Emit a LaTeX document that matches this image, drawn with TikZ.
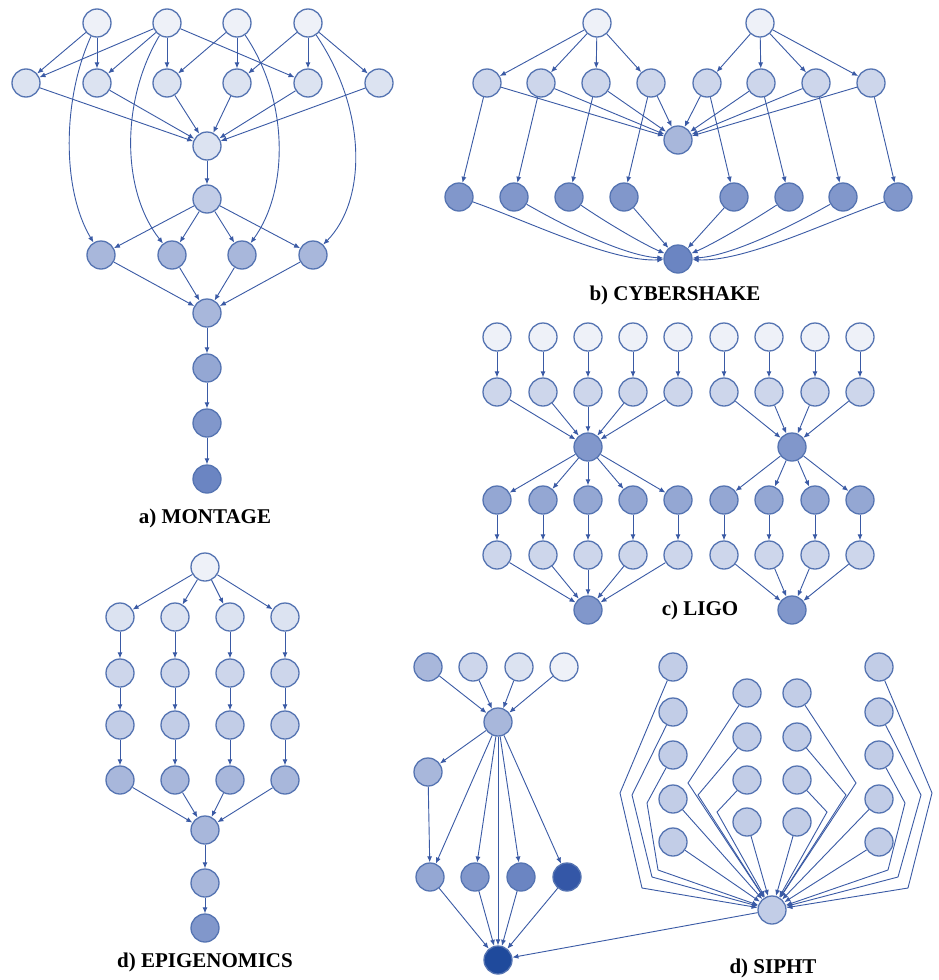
\documentclass[tikz,border=0pt]{standalone}
\usepackage{fontspec}
\setmainfont{Liberation Serif}
\usetikzlibrary{arrows.meta}
% palette: node border, edge colour and node fills from light to dark
\definecolor{nb}{HTML}{5574B2}
\definecolor{ln}{HTML}{3A5AA5}
\definecolor{k0}{HTML}{EEF1F8}
\definecolor{k1}{HTML}{DCE3F1}
\definecolor{k2}{HTML}{CDD6EB}
\definecolor{k3}{HTML}{C2CDE7}
\definecolor{k4}{HTML}{A8B7DB}
\definecolor{k5}{HTML}{94A7D3}
\definecolor{k6}{HTML}{8197CB}
\definecolor{k7}{HTML}{6B85C2}
\definecolor{k8}{HTML}{3457A7}
\definecolor{k9}{HTML}{1F4A9C}
\begin{document}
\begin{tikzpicture}[x=1pt,y=-1pt,
  job/.style={circle,draw=nb,line width=1.3pt,minimum size=28pt,inner sep=0pt,fill=#1},
  job/.default=k1,
  link/.style={draw=ln,line width=0.9pt,-{Latex[length=6pt,width=5pt]}},
  caption/.style={font=\bfseries\fontsize{21}{24}\selectfont,inner sep=0pt}]
\useasboundingbox[fill=white] (0,0) rectangle (938,980);

% ---------------- a) MONTAGE ----------------
\foreach \x [count=\i] in {97,167,237,308} \node[job=k0] (mt\i) at (\x,23) {};
\foreach \x [count=\i] in {26,97,167,237,308,379} \node[job=k1] (mp\i) at (\x,83) {};
\node[job=k1] (mc) at (207,146) {};
\node[job=k3] (mb) at (207,199) {};
\foreach \x [count=\i] in {101,172,242,313} \node[job=k4] (md\i) at (\x,255) {};
\node[job=k4] (me) at (207,313) {};
\node[job=k5] (mf) at (207,368) {};
\node[job=k6] (mg) at (207,423) {};
\node[job=k7] (mh) at (207,479) {};
\foreach \a/\b in {mt1/mp1,mt1/mp2,mt2/mp1,mt2/mp2,mt2/mp3,mt2/mp5,
                   mt3/mp3,mt3/mp4,mt4/mp4,mt4/mp5,mt4/mp6}
  \draw[link] (\a) -- (\b);
\foreach \i in {1,...,6} \draw[link] (mp\i) -- (mc);
\draw[link] (mc) -- (mb);
\foreach \i in {1,...,4} {\draw[link] (mb) -- (md\i); \draw[link] (md\i) -- (me);}
\draw[link] (me) -- (mf);
\draw[link] (mf) -- (mg);
\draw[link] (mg) -- (mh);
\draw[link] (mt1) .. controls (62,100) and (62,190) .. (md1);
\draw[link] (mt2) .. controls (121,100) and (121,190) .. (md2);
\draw[link] (mt3) .. controls (289,100) and (289,190) .. (md3);
\draw[link] (mt4) .. controls (367,110) and (367,200) .. (md4);
\node[caption] (capa) at (205,518) {a) MONTAGE};

% ---------------- b) CYBERSHAKE ----------------
\node[job=k0] (ct1) at (597,23) {};
\node[job=k0] (ct2) at (760,23) {};
\foreach \x [count=\i] in {487,541,596,651,707,761,816,871} \node[job=k2] (cp\i) at (\x,83) {};
\node[job=k4] (cc) at (678,140) {};
\foreach \x [count=\i] in {459,514,569,624,734,789,843,898} \node[job=k6] (cq\i) at (\x,197) {};
\node[job=k7] (cb) at (678,259) {};
\foreach \i in {1,...,4} \draw[link] (ct1) -- (cp\i);
\foreach \i in {5,...,8} \draw[link] (ct2) -- (cp\i);
\foreach \i in {1,...,8} {\draw[link] (cp\i) -- (cc); \draw[link] (cp\i) -- (cq\i);}
\draw[link] (cq1) .. controls (530,222) and (611,262) .. (cb);
\draw[link] (cq2) .. controls (575,232) and (628,256) .. (cb);
\draw[link] (cq3) .. controls (610,225) and (645,245) .. (cb);
\draw[link] (cq4) -- (cb);
\draw[link] (cq5) -- (cb);
\draw[link] (cq6) .. controls (746,225) and (711,245) .. (cb);
\draw[link] (cq7) .. controls (781,232) and (728,256) .. (cb);
\draw[link] (cq8) .. controls (826,222) and (745,262) .. (cb);
\node[caption] (capb) at (675,295) {b) CYBERSHAKE};

% ---------------- c) LIGO ----------------
\foreach \x [count=\i] in {497,543,588,633,678,724,769,815,860} {
  \node[job=k0] (la\i) at (\x,337) {};
  \node[job=k2] (lc\i) at (\x,392) {};
  \node[job=k5] (ld\i) at (\x,500) {};
  \node[job=k2] (le\i) at (\x,555) {};
  \draw[link] (la\i) -- (lc\i);
  \draw[link] (ld\i) -- (le\i);
}
\node[job=k6] (lh1) at (588,447) {};
\node[job=k6] (lh2) at (792,447) {};
\node[job=k6] (lb1) at (588,610) {};
\node[job=k6] (lb2) at (792,610) {};
\foreach \i in {1,...,5} {\draw[link] (lc\i) -- (lh1); \draw[link] (lh1) -- (ld\i); \draw[link] (le\i) -- (lb1);}
\foreach \i in {6,...,9} {\draw[link] (lc\i) -- (lh2); \draw[link] (lh2) -- (ld\i); \draw[link] (le\i) -- (lb2);}
\node[caption] (capc) at (700,610) {c) LIGO};

% ---------------- d) EPIGENOMICS ----------------
\node[job=k0] (et) at (205,567) {};
\foreach \x [count=\i] in {120,175,230,285} {
  \node[job=k1] (ea\i) at (\x,617) {};
  \node[job=k2] (eb\i) at (\x,673) {};
  \node[job=k3] (ec\i) at (\x,725) {};
  \node[job=k4] (ed\i) at (\x,780) {};
  \draw[link] (et) -- (ea\i);
  \draw[link] (ea\i) -- (eb\i);
  \draw[link] (eb\i) -- (ec\i);
  \draw[link] (ec\i) -- (ed\i);
}
\node[job=k4] (em) at (205,830) {};
\node[job=k4] (en) at (205,883) {};
\node[job=k6] (eo) at (205,928) {};
\foreach \i in {1,...,4} \draw[link] (ed\i) -- (em);
\draw[link] (em) -- (en);
\draw[link] (en) -- (eo);
\node[caption] (capd) at (205,962) {d) EPIGENOMICS};

% ---------------- d) SIPHT ----------------
\node[job=k4] (st1) at (428,667) {};
\node[job=k2] (st2) at (473,667) {};
\node[job=k1] (st3) at (519,667) {};
\node[job=k0] (st4) at (564,667) {};
\node[job=k4] (sh) at (498,722) {};
\node[job=k4] (ss) at (428,772) {};
\node[job=k5] (sr1) at (430,877) {};
\node[job=k6] (sr2) at (475,877) {};
\node[job=k7] (sr3) at (521,877) {};
\node[job=k8] (sr4) at (567,877) {};
\node[job=k9] (sb) at (498,960) {};
\foreach \i in {1,...,4} {\draw[link] (st\i) -- (sh); \draw[link] (sh) -- (sr\i); \draw[link] (sr\i) -- (sb);}
\draw[link] (sh) -- (ss);
\draw[link] (ss) -- (sr1);
\draw[link] (sh) -- (sb);

\foreach \y [count=\i] in {667,712,755,799,842} {
  \node[job=k3] (xl\i) at (673,\y) {};
  \node[job=k3] (xr\i) at (879,\y) {};
}
\foreach \y [count=\i] in {693,737,780,822} {
  \node[job=k3] (xi\i) at (747,\y) {};
  \node[job=k3] (xj\i) at (797,\y) {};
}
\node[job=k3] (xh) at (772,910) {};
% routed connectors into the collecting job
\draw[link] (xl1) -- (620,793) -- (642,888) -- (xh);
\draw[link] (xl2) -- (632,795) -- (652,877) -- (xh);
\draw[link] (xl3) -- (647,803) -- (658,870) -- (xh);
\draw[link] (xl4) -- (xh);
\draw[link] (xl5) -- (xh);
\draw[link] (xi1) -- (688,783) -- (xh);
\draw[link] (xi2) -- (698,795) -- (xh);
\draw[link] (xi3) -- (717,812) -- (xh);
\draw[link] (xi4) -- (xh);
\draw[link] (xj1) -- (856,783) -- (xh);
\draw[link] (xj2) -- (846,795) -- (xh);
\draw[link] (xj3) -- (827,812) -- (xh);
\draw[link] (xj4) -- (xh);
\draw[link] (xr1) -- (932,793) -- (908,888) -- (xh);
\draw[link] (xr2) -- (921,795) -- (898,877) -- (xh);
\draw[link] (xr3) -- (905,803) -- (888,870) -- (xh);
\draw[link] (xr4) -- (xh);
\draw[link] (xr5) -- (xh);
\draw[link] (xh) -- (sb);
\node[caption] (cape) at (773,968) {d) SIPHT};
\end{tikzpicture}
\end{document}
